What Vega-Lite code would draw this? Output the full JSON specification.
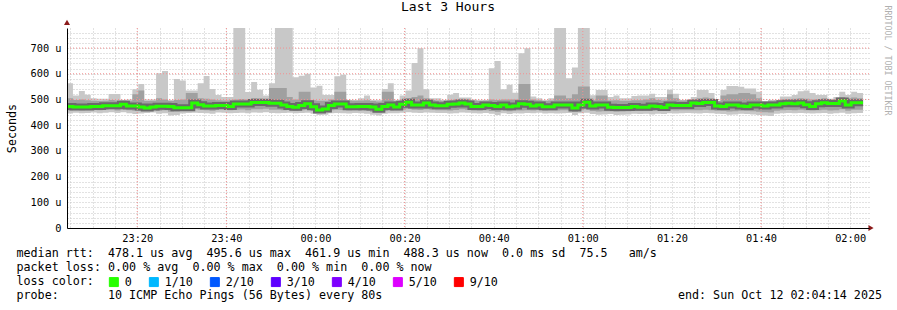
{
  "$schema": "https://vega.github.io/schema/vega-lite/v6.json",
  "width": 802,
  "height": 200,
  "autosize": "none",
  "padding": {"left": 67, "top": 28, "right": 28, "bottom": 82},
  "background": "#ffffff",
  "config": {"view": {"stroke": null}, "font": "DejaVu Sans Mono"},
  "title": {"text": "Last 3 Hours", "font": "DejaVu Sans Mono", "fontSize": 13, "fontWeight": "normal", "color": "#000", "anchor": "middle", "frame": "group", "dx": -20, "baseline": "alphabetic", "offset": -19},
  "data": {"values": [
    {"t":"2025-10-11T23:04:14","lo":445,"q1":458,"q3":505,"hi":563,"m":473,"l":"0"},
    {"t":"2025-10-11T23:05:34","lo":448,"q1":460,"q3":498,"hi":515,"m":471,"l":"0"},
    {"t":"2025-10-11T23:06:54","lo":446,"q1":458,"q3":500,"hi":533,"m":471,"l":"0"},
    {"t":"2025-10-11T23:08:14","lo":447,"q1":459,"q3":497,"hi":518,"m":471,"l":"0"},
    {"t":"2025-10-11T23:09:34","lo":449,"q1":461,"q3":495,"hi":505,"m":473,"l":"0"},
    {"t":"2025-10-11T23:10:54","lo":446,"q1":458,"q3":494,"hi":503,"m":473,"l":"0"},
    {"t":"2025-10-11T23:12:14","lo":448,"q1":460,"q3":495,"hi":503,"m":476,"l":"0"},
    {"t":"2025-10-11T23:13:34","lo":450,"q1":462,"q3":498,"hi":521,"m":476,"l":"0"},
    {"t":"2025-10-11T23:14:54","lo":447,"q1":457,"q3":496,"hi":521,"m":476,"l":"0"},
    {"t":"2025-10-11T23:16:14","lo":450,"q1":462,"q3":497,"hi":498,"m":481,"l":"0"},
    {"t":"2025-10-11T23:17:34","lo":446,"q1":458,"q3":495,"hi":500,"m":475,"l":"0"},
    {"t":"2025-10-11T23:18:54","lo":443,"q1":456,"q3":520,"hi":540,"m":475,"l":"0"},
    {"t":"2025-10-11T23:20:14","lo":445,"q1":455,"q3":535,"hi":560,"m":471,"l":"0"},
    {"t":"2025-10-11T23:21:34","lo":447,"q1":457,"q3":494,"hi":500,"m":467,"l":"0"},
    {"t":"2025-10-11T23:22:54","lo":449,"q1":459,"q3":495,"hi":500,"m":471,"l":"0"},
    {"t":"2025-10-11T23:24:14","lo":444,"q1":456,"q3":505,"hi":602,"m":474,"l":"0"},
    {"t":"2025-10-11T23:25:34","lo":446,"q1":458,"q3":500,"hi":611,"m":474,"l":"0"},
    {"t":"2025-10-11T23:26:54","lo":438,"q1":452,"q3":494,"hi":498,"m":473,"l":"0"},
    {"t":"2025-10-11T23:28:14","lo":440,"q1":453,"q3":498,"hi":580,"m":468,"l":"0"},
    {"t":"2025-10-11T23:29:34","lo":445,"q1":456,"q3":500,"hi":574,"m":468,"l":"0"},
    {"t":"2025-10-11T23:30:54","lo":447,"q1":458,"q3":525,"hi":535,"m":468,"l":"0"},
    {"t":"2025-10-11T23:32:14","lo":448,"q1":462,"q3":525,"hi":535,"m":486,"l":"0"},
    {"t":"2025-10-11T23:33:34","lo":447,"q1":460,"q3":505,"hi":563,"m":479,"l":"0"},
    {"t":"2025-10-11T23:34:54","lo":446,"q1":458,"q3":503,"hi":591,"m":475,"l":"0"},
    {"t":"2025-10-11T23:36:14","lo":444,"q1":456,"q3":500,"hi":541,"m":475,"l":"0"},
    {"t":"2025-10-11T23:37:34","lo":449,"q1":460,"q3":497,"hi":517,"m":477,"l":"0"},
    {"t":"2025-10-11T23:38:54","lo":448,"q1":460,"q3":496,"hi":510,"m":477,"l":"0"},
    {"t":"2025-10-11T23:40:14","lo":446,"q1":458,"q3":496,"hi":510,"m":473,"l":"0"},
    {"t":"2025-10-11T23:41:34","lo":447,"q1":460,"q3":500,"hi":780,"m":482,"l":"0"},
    {"t":"2025-10-11T23:42:54","lo":448,"q1":461,"q3":502,"hi":780,"m":482,"l":"0"},
    {"t":"2025-10-11T23:44:14","lo":446,"q1":458,"q3":500,"hi":529,"m":482,"l":"0"},
    {"t":"2025-10-11T23:45:34","lo":449,"q1":462,"q3":506,"hi":568,"m":488,"l":"0"},
    {"t":"2025-10-11T23:46:54","lo":448,"q1":462,"q3":505,"hi":538,"m":488,"l":"0"},
    {"t":"2025-10-11T23:48:14","lo":450,"q1":464,"q3":504,"hi":515,"m":488,"l":"0"},
    {"t":"2025-10-11T23:49:34","lo":447,"q1":460,"q3":545,"hi":563,"m":485,"l":"0"},
    {"t":"2025-10-11T23:50:54","lo":446,"q1":460,"q3":545,"hi":780,"m":485,"l":"0"},
    {"t":"2025-10-11T23:52:14","lo":447,"q1":458,"q3":545,"hi":780,"m":478,"l":"0"},
    {"t":"2025-10-11T23:53:34","lo":448,"q1":459,"q3":510,"hi":780,"m":473,"l":"0"},
    {"t":"2025-10-11T23:54:54","lo":446,"q1":456,"q3":500,"hi":586,"m":470,"l":"0"},
    {"t":"2025-10-11T23:56:14","lo":447,"q1":458,"q3":530,"hi":592,"m":477,"l":"0"},
    {"t":"2025-10-11T23:57:34","lo":448,"q1":460,"q3":530,"hi":600,"m":483,"l":"0"},
    {"t":"2025-10-11T23:58:54","lo":444,"q1":455,"q3":497,"hi":547,"m":472,"l":"0"},
    {"t":"2025-10-12T00:00:14","lo":440,"q1":450,"q3":495,"hi":553,"m":459,"l":"0"},
    {"t":"2025-10-12T00:01:34","lo":441,"q1":452,"q3":495,"hi":517,"m":463,"l":"0"},
    {"t":"2025-10-12T00:02:54","lo":446,"q1":458,"q3":500,"hi":517,"m":477,"l":"0"},
    {"t":"2025-10-12T00:04:14","lo":447,"q1":460,"q3":530,"hi":590,"m":482,"l":"0"},
    {"t":"2025-10-12T00:05:34","lo":446,"q1":459,"q3":530,"hi":596,"m":482,"l":"0"},
    {"t":"2025-10-12T00:06:54","lo":445,"q1":457,"q3":496,"hi":498,"m":472,"l":"0"},
    {"t":"2025-10-12T00:08:14","lo":447,"q1":458,"q3":495,"hi":498,"m":472,"l":"0"},
    {"t":"2025-10-12T00:09:34","lo":446,"q1":456,"q3":496,"hi":505,"m":473,"l":"0"},
    {"t":"2025-10-12T00:10:54","lo":444,"q1":455,"q3":497,"hi":515,"m":473,"l":"0"},
    {"t":"2025-10-12T00:12:14","lo":441,"q1":452,"q3":494,"hi":498,"m":471,"l":"0"},
    {"t":"2025-10-12T00:13:34","lo":438,"q1":450,"q3":492,"hi":498,"m":462,"l":"0"},
    {"t":"2025-10-12T00:14:54","lo":444,"q1":455,"q3":530,"hi":541,"m":473,"l":"0"},
    {"t":"2025-10-12T00:16:14","lo":446,"q1":457,"q3":530,"hi":563,"m":478,"l":"0"},
    {"t":"2025-10-12T00:17:34","lo":446,"q1":458,"q3":494,"hi":498,"m":471,"l":"0"},
    {"t":"2025-10-12T00:18:54","lo":448,"q1":460,"q3":500,"hi":515,"m":481,"l":"0"},
    {"t":"2025-10-12T00:20:14","lo":450,"q1":464,"q3":505,"hi":535,"m":489,"l":"0"},
    {"t":"2025-10-12T00:21:34","lo":448,"q1":460,"q3":510,"hi":642,"m":478,"l":"0"},
    {"t":"2025-10-12T00:22:54","lo":447,"q1":459,"q3":515,"hi":699,"m":478,"l":"0"},
    {"t":"2025-10-12T00:24:14","lo":449,"q1":462,"q3":505,"hi":540,"m":486,"l":"0"},
    {"t":"2025-10-12T00:25:34","lo":448,"q1":460,"q3":498,"hi":505,"m":478,"l":"0"},
    {"t":"2025-10-12T00:26:54","lo":447,"q1":458,"q3":496,"hi":505,"m":476,"l":"0"},
    {"t":"2025-10-12T00:28:14","lo":447,"q1":458,"q3":495,"hi":497,"m":476,"l":"0"},
    {"t":"2025-10-12T00:29:34","lo":445,"q1":457,"q3":497,"hi":518,"m":481,"l":"0"},
    {"t":"2025-10-12T00:30:54","lo":446,"q1":459,"q3":500,"hi":525,"m":482,"l":"0"},
    {"t":"2025-10-12T00:32:14","lo":449,"q1":462,"q3":503,"hi":508,"m":486,"l":"0"},
    {"t":"2025-10-12T00:33:34","lo":448,"q1":460,"q3":500,"hi":508,"m":482,"l":"0"},
    {"t":"2025-10-12T00:34:54","lo":446,"q1":457,"q3":496,"hi":500,"m":473,"l":"0"},
    {"t":"2025-10-12T00:36:14","lo":445,"q1":456,"q3":495,"hi":497,"m":473,"l":"0"},
    {"t":"2025-10-12T00:37:34","lo":447,"q1":458,"q3":496,"hi":497,"m":478,"l":"0"},
    {"t":"2025-10-12T00:38:54","lo":444,"q1":455,"q3":500,"hi":621,"m":477,"l":"0"},
    {"t":"2025-10-12T00:40:14","lo":440,"q1":452,"q3":498,"hi":650,"m":473,"l":"0"},
    {"t":"2025-10-12T00:41:34","lo":446,"q1":457,"q3":500,"hi":540,"m":478,"l":"0"},
    {"t":"2025-10-12T00:42:54","lo":443,"q1":454,"q3":500,"hi":557,"m":472,"l":"0"},
    {"t":"2025-10-12T00:44:14","lo":446,"q1":457,"q3":500,"hi":526,"m":475,"l":"0"},
    {"t":"2025-10-12T00:45:34","lo":445,"q1":457,"q3":560,"hi":680,"m":483,"l":"0"},
    {"t":"2025-10-12T00:46:54","lo":447,"q1":458,"q3":560,"hi":699,"m":481,"l":"0"},
    {"t":"2025-10-12T00:48:14","lo":446,"q1":457,"q3":500,"hi":512,"m":475,"l":"0"},
    {"t":"2025-10-12T00:49:34","lo":448,"q1":459,"q3":497,"hi":505,"m":478,"l":"0"},
    {"t":"2025-10-12T00:50:54","lo":445,"q1":456,"q3":495,"hi":497,"m":472,"l":"0"},
    {"t":"2025-10-12T00:52:14","lo":446,"q1":457,"q3":496,"hi":505,"m":472,"l":"0"},
    {"t":"2025-10-12T00:53:34","lo":445,"q1":457,"q3":515,"hi":780,"m":478,"l":"0"},
    {"t":"2025-10-12T00:54:54","lo":446,"q1":458,"q3":515,"hi":780,"m":478,"l":"0"},
    {"t":"2025-10-12T00:56:14","lo":447,"q1":458,"q3":505,"hi":583,"m":478,"l":"0"},
    {"t":"2025-10-12T00:57:34","lo":440,"q1":452,"q3":520,"hi":624,"m":467,"l":"0"},
    {"t":"2025-10-12T00:58:54","lo":446,"q1":458,"q3":550,"hi":780,"m":478,"l":"0"},
    {"t":"2025-10-12T01:00:14","lo":448,"q1":462,"q3":550,"hi":780,"m":489,"l":"0"},
    {"t":"2025-10-12T01:01:34","lo":443,"q1":455,"q3":497,"hi":516,"m":475,"l":"0"},
    {"t":"2025-10-12T01:02:54","lo":441,"q1":453,"q3":515,"hi":537,"m":478,"l":"0"},
    {"t":"2025-10-12T01:04:14","lo":442,"q1":454,"q3":515,"hi":537,"m":478,"l":"0"},
    {"t":"2025-10-12T01:05:34","lo":443,"q1":454,"q3":496,"hi":510,"m":470,"l":"0"},
    {"t":"2025-10-12T01:06:54","lo":440,"q1":452,"q3":497,"hi":515,"m":469,"l":"0"},
    {"t":"2025-10-12T01:08:14","lo":441,"q1":453,"q3":495,"hi":505,"m":469,"l":"0"},
    {"t":"2025-10-12T01:09:34","lo":442,"q1":454,"q3":495,"hi":505,"m":469,"l":"0"},
    {"t":"2025-10-12T01:10:54","lo":444,"q1":456,"q3":497,"hi":513,"m":473,"l":"0"},
    {"t":"2025-10-12T01:12:14","lo":443,"q1":455,"q3":497,"hi":515,"m":470,"l":"0"},
    {"t":"2025-10-12T01:13:34","lo":444,"q1":456,"q3":500,"hi":515,"m":470,"l":"0"},
    {"t":"2025-10-12T01:14:54","lo":442,"q1":455,"q3":505,"hi":522,"m":475,"l":"0"},
    {"t":"2025-10-12T01:16:14","lo":444,"q1":456,"q3":498,"hi":510,"m":473,"l":"0"},
    {"t":"2025-10-12T01:17:34","lo":443,"q1":455,"q3":496,"hi":510,"m":469,"l":"0"},
    {"t":"2025-10-12T01:18:54","lo":446,"q1":458,"q3":520,"hi":538,"m":478,"l":"0"},
    {"t":"2025-10-12T01:20:14","lo":445,"q1":457,"q3":505,"hi":522,"m":477,"l":"0"},
    {"t":"2025-10-12T01:21:34","lo":446,"q1":458,"q3":496,"hi":498,"m":477,"l":"0"},
    {"t":"2025-10-12T01:22:54","lo":447,"q1":458,"q3":497,"hi":498,"m":477,"l":"0"},
    {"t":"2025-10-12T01:24:14","lo":446,"q1":458,"q3":500,"hi":510,"m":486,"l":"0"},
    {"t":"2025-10-12T01:25:34","lo":445,"q1":458,"q3":505,"hi":537,"m":484,"l":"0"},
    {"t":"2025-10-12T01:26:54","lo":447,"q1":460,"q3":508,"hi":537,"m":488,"l":"0"},
    {"t":"2025-10-12T01:28:14","lo":446,"q1":458,"q3":505,"hi":525,"m":488,"l":"0"},
    {"t":"2025-10-12T01:29:34","lo":444,"q1":456,"q3":494,"hi":495,"m":475,"l":"0"},
    {"t":"2025-10-12T01:30:54","lo":443,"q1":455,"q3":515,"hi":537,"m":473,"l":"0"},
    {"t":"2025-10-12T01:32:14","lo":441,"q1":453,"q3":520,"hi":552,"m":478,"l":"0"},
    {"t":"2025-10-12T01:33:34","lo":442,"q1":454,"q3":520,"hi":552,"m":478,"l":"0"},
    {"t":"2025-10-12T01:34:54","lo":444,"q1":456,"q3":525,"hi":549,"m":475,"l":"0"},
    {"t":"2025-10-12T01:36:14","lo":443,"q1":455,"q3":525,"hi":543,"m":473,"l":"0"},
    {"t":"2025-10-12T01:37:34","lo":442,"q1":454,"q3":520,"hi":543,"m":478,"l":"0"},
    {"t":"2025-10-12T01:38:54","lo":440,"q1":452,"q3":505,"hi":530,"m":478,"l":"0"},
    {"t":"2025-10-12T01:40:14","lo":438,"q1":450,"q3":492,"hi":492,"m":475,"l":"0"},
    {"t":"2025-10-12T01:41:34","lo":436,"q1":449,"q3":495,"hi":498,"m":478,"l":"0"},
    {"t":"2025-10-12T01:42:54","lo":444,"q1":456,"q3":496,"hi":498,"m":478,"l":"0"},
    {"t":"2025-10-12T01:44:14","lo":446,"q1":458,"q3":500,"hi":512,"m":483,"l":"0"},
    {"t":"2025-10-12T01:45:34","lo":447,"q1":459,"q3":502,"hi":512,"m":485,"l":"0"},
    {"t":"2025-10-12T01:46:54","lo":446,"q1":458,"q3":503,"hi":517,"m":483,"l":"0"},
    {"t":"2025-10-12T01:48:14","lo":447,"q1":460,"q3":505,"hi":532,"m":486,"l":"0"},
    {"t":"2025-10-12T01:49:34","lo":446,"q1":458,"q3":503,"hi":535,"m":479,"l":"0"},
    {"t":"2025-10-12T01:50:54","lo":445,"q1":457,"q3":500,"hi":525,"m":473,"l":"0"},
    {"t":"2025-10-12T01:52:14","lo":446,"q1":458,"q3":502,"hi":517,"m":483,"l":"0"},
    {"t":"2025-10-12T01:53:34","lo":447,"q1":460,"q3":505,"hi":517,"m":487,"l":"0"},
    {"t":"2025-10-12T01:54:54","lo":444,"q1":457,"q3":500,"hi":503,"m":484,"l":"0"},
    {"t":"2025-10-12T01:56:14","lo":446,"q1":458,"q3":502,"hi":510,"m":484,"l":"0"},
    {"t":"2025-10-12T01:57:34","lo":448,"q1":462,"q3":510,"hi":530,"m":494,"l":"0"},
    {"t":"2025-10-12T01:58:54","lo":444,"q1":456,"q3":505,"hi":517,"m":478,"l":"0"},
    {"t":"2025-10-12T02:00:14","lo":446,"q1":460,"q3":508,"hi":530,"m":487,"l":"0"},
    {"t":"2025-10-12T02:01:34","lo":447,"q1":460,"q3":505,"hi":525,"m":487,"l":"0"},
    {"t":"2025-10-12T02:02:54","lo":447,"q1":460,"q3":505,"hi":525,"m":487,"l":"0"}
  ]},
  "resolve": {"axis": {"y": "independent", "x": "independent"}},
  "layer": [
    {
      "mark": {"type": "area", "interpolate": "step-after", "color": "#c8c8c8", "clip": true},
      "encoding": {
        "x": {"field": "t", "type": "temporal",
          "scale": {"domain": [{"year": 2025, "month": 10, "date": 11, "hours": 23, "minutes": 4, "seconds": 14}, {"year": 2025, "month": 10, "date": 12, "hours": 2, "minutes": 4, "seconds": 14}]},
          "axis": {"orient": "bottom", "labels": false, "ticks": false, "domain": false, "grid": false,
            "title": "packet loss: 0.00 % avg\u00a0\u00a00.00 % max\u00a0\u00a00.00 % min\u00a0\u00a00.00 % now",
            "titleFont": "DejaVu Sans Mono", "titleFontSize": 11.7, "titleFontWeight": "normal", "titleColor": "#000",
            "titleX": -51, "titleY": 33, "titleAlign": "left", "titleBaseline": "top"}},
        "y": {"field": "lo", "type": "quantitative",
          "scale": {"domain": [0, 778], "nice": false, "zero": true},
          "axis": {
            "orient": "left",
            "values": [0,100,200,300,400,500,600,700],
            "labelExpr": "datum.value == 0 ? '0\u00a0\u00a0' : datum.value + ' u'",
            "labelOverlap": false, "labelBound": false, "labelFlush": false,
            "ticks": false, "domainColor": "#000", "labelPadding": 6,
            "labelFont": "DejaVu Sans Mono", "labelFontSize": 10.3, "labelColor": "#000",
            "grid": false, "zindex": 1,
            "title": "Seconds", "titleFont": "DejaVu Sans Mono", "titleFontSize": 11.7, "titleFontWeight": "normal", "titleColor": "#000",
            "titleX": -56, "titleY": 100, "titleAngle": -90, "titleAlign": "center", "titleBaseline": "middle"
          }
        },
        "y2": {"field": "hi"}
      }
    },
    {
      "mark": {"type": "area", "interpolate": "step-after", "color": "#a0a0a0", "clip": true},
      "encoding": {
        "x": {"field": "t", "type": "temporal",
          "axis": {"orient": "bottom", "labels": false, "ticks": false, "domain": false, "grid": false,
            "title": "loss color:",
            "titleFont": "DejaVu Sans Mono", "titleFontSize": 11.7, "titleFontWeight": "normal", "titleColor": "#000",
            "titleX": -51, "titleY": 47, "titleAlign": "left", "titleBaseline": "top"}},
        "y": {"field": "q1", "type": "quantitative",
          "axis": {"orient": "left", "title": null, "labels": false, "ticks": false, "domain": false,
            "values": [0,20,40,60,80,100,120,140,160,180,200,220,240,260,280,300,320,340,360,380,400,420,440,460,480,500,520,540,560,580,600,620,640,660,680,700,720,740,760],
            "grid": true, "gridColor": "#c4c4c4", "gridDash": [1, 2], "gridWidth": 1, "zindex": 0}},
        "y2": {"field": "q3"}
      }
    },
    {
      "mark": {"type": "line", "interpolate": "step-after", "color": "#6a6a6a", "strokeWidth": 7, "clip": true},
      "encoding": {
        "x": {"field": "t", "type": "temporal",
          "axis": {"orient": "bottom", "labels": false, "ticks": false, "domain": false, "grid": false,
            "title": "probe:\u00a0\u00a0\u00a0\u00a0\u00a0\u00a0\u00a010 ICMP Echo Pings (56 Bytes) every 80s\u00a0\u00a0\u00a0\u00a0\u00a0\u00a0\u00a0\u00a0\u00a0\u00a0\u00a0\u00a0\u00a0\u00a0\u00a0\u00a0\u00a0\u00a0\u00a0\u00a0\u00a0\u00a0\u00a0\u00a0\u00a0\u00a0\u00a0\u00a0\u00a0\u00a0\u00a0\u00a0\u00a0\u00a0\u00a0\u00a0\u00a0\u00a0\u00a0\u00a0\u00a0\u00a0end: Sun Oct 12 02:04:14 2025",
            "titleFont": "DejaVu Sans Mono", "titleFontSize": 11.7, "titleFontWeight": "normal", "titleColor": "#000",
            "titleX": -51, "titleY": 61, "titleAlign": "left", "titleBaseline": "top"}},
        "y": {"field": "m", "type": "quantitative", "axis": null}
      }
    },
    {
      "mark": {"type": "line", "interpolate": "step-after", "strokeWidth": 3, "clip": true},
      "encoding": {
        "x": {"field": "t", "type": "temporal",
          "axis": {"orient": "bottom", "title": null, "labels": false, "ticks": false, "domain": false,
            "values": [
              {"year":2025,"month":10,"date":11,"hours":23,"minutes":5},{"year":2025,"month":10,"date":11,"hours":23,"minutes":10},{"year":2025,"month":10,"date":11,"hours":23,"minutes":15},{"year":2025,"month":10,"date":11,"hours":23,"minutes":20},
              {"year":2025,"month":10,"date":11,"hours":23,"minutes":25},{"year":2025,"month":10,"date":11,"hours":23,"minutes":30},{"year":2025,"month":10,"date":11,"hours":23,"minutes":35},{"year":2025,"month":10,"date":11,"hours":23,"minutes":40},
              {"year":2025,"month":10,"date":11,"hours":23,"minutes":45},{"year":2025,"month":10,"date":11,"hours":23,"minutes":50},{"year":2025,"month":10,"date":11,"hours":23,"minutes":55},
              {"year":2025,"month":10,"date":12,"hours":0,"minutes":0},{"year":2025,"month":10,"date":12,"hours":0,"minutes":5},{"year":2025,"month":10,"date":12,"hours":0,"minutes":10},{"year":2025,"month":10,"date":12,"hours":0,"minutes":15},
              {"year":2025,"month":10,"date":12,"hours":0,"minutes":20},{"year":2025,"month":10,"date":12,"hours":0,"minutes":25},{"year":2025,"month":10,"date":12,"hours":0,"minutes":30},{"year":2025,"month":10,"date":12,"hours":0,"minutes":35},
              {"year":2025,"month":10,"date":12,"hours":0,"minutes":40},{"year":2025,"month":10,"date":12,"hours":0,"minutes":45},{"year":2025,"month":10,"date":12,"hours":0,"minutes":50},{"year":2025,"month":10,"date":12,"hours":0,"minutes":55},
              {"year":2025,"month":10,"date":12,"hours":1,"minutes":0},{"year":2025,"month":10,"date":12,"hours":1,"minutes":5},{"year":2025,"month":10,"date":12,"hours":1,"minutes":10},{"year":2025,"month":10,"date":12,"hours":1,"minutes":15},
              {"year":2025,"month":10,"date":12,"hours":1,"minutes":20},{"year":2025,"month":10,"date":12,"hours":1,"minutes":25},{"year":2025,"month":10,"date":12,"hours":1,"minutes":30},{"year":2025,"month":10,"date":12,"hours":1,"minutes":35},
              {"year":2025,"month":10,"date":12,"hours":1,"minutes":40},{"year":2025,"month":10,"date":12,"hours":1,"minutes":45},{"year":2025,"month":10,"date":12,"hours":1,"minutes":50},{"year":2025,"month":10,"date":12,"hours":1,"minutes":55},
              {"year":2025,"month":10,"date":12,"hours":2,"minutes":0}
            ],
            "grid": true, "gridColor": "#c4c4c4", "gridDash": [1, 2], "gridWidth": 1, "zindex": 0}},
        "y": {"field": "m", "type": "quantitative", "axis": null},
        "color": {"field": "l", "type": "nominal",
          "scale": {"domain": ["0", "1/10", "2/10", "3/10", "4/10", "5/10", "9/10"], "range": ["#26ff00", "#00b8ff", "#0059ff", "#5e00ff", "#7e00ff", "#dd00ff", "#ff0000"]},
          "legend": {
            "orient": "none", "legendX": 41, "legendY": 248, "direction": "horizontal", "title": null,
            "symbolType": "square", "symbolSize": 81, "symbolStrokeWidth": 1, "symbolStrokeColor": "#000",
            "labelFont": "DejaVu Sans Mono", "labelFontSize": 11.7, "labelColor": "#000", "labelOffset": 5,
            "columnPadding": 15, "padding": 0,
            "encode": {"symbols": {"update": {"fill": {"scale": "color", "field": "value"}, "stroke": {"value": "#000"}, "strokeWidth": {"value": 1}, "opacity": {"value": 1}, "fillOpacity": {"value": 1}}}}
          }
        }
      }
    },
    {
      "data": {"values": [
        {"t": "2025-10-11T23:20:00"}, {"t": "2025-10-11T23:40:00"}, {"t": "2025-10-12T00:20:00"}, {"t": "2025-10-12T01:00:00"}, {"t": "2025-10-12T01:40:00"}
      ]},
      "mark": {"type": "rule", "color": "#f49090", "strokeDash": [1, 2], "strokeWidth": 1},
      "encoding": {
        "x": {"field": "t", "type": "temporal",
          "scale": {"domain": [{"year": 2025, "month": 10, "date": 11, "hours": 23, "minutes": 4, "seconds": 14}, {"year": 2025, "month": 10, "date": 12, "hours": 2, "minutes": 4, "seconds": 14}]},
          "axis": {
            "orient": "bottom",
            "values": [
              {"year":2025,"month":10,"date":11,"hours":23,"minutes":20},{"year":2025,"month":10,"date":11,"hours":23,"minutes":40},
              {"year":2025,"month":10,"date":12,"hours":0,"minutes":0},{"year":2025,"month":10,"date":12,"hours":0,"minutes":20},{"year":2025,"month":10,"date":12,"hours":0,"minutes":40},
              {"year":2025,"month":10,"date":12,"hours":1,"minutes":0},{"year":2025,"month":10,"date":12,"hours":1,"minutes":20},{"year":2025,"month":10,"date":12,"hours":1,"minutes":40},
              {"year":2025,"month":10,"date":12,"hours":2,"minutes":0}
            ],
            "format": "%H:%M",
            "labelOverlap": false, "labelFlush": false, "labelBound": false,
            "ticks": false, "domainColor": "#000", "domainWidth": 1,
            "labelFont": "DejaVu Sans Mono", "labelFontSize": 10.3, "labelColor": "#000", "labelPadding": 5,
            "grid": false, "zindex": 1,
            "title": "median rtt:\u00a0\u00a0478.1 us avg\u00a0\u00a0495.6 us max\u00a0\u00a0461.9 us min\u00a0\u00a0488.3 us now\u00a0\u00a00.0 ms sd\u00a0\u00a075.5\u00a0\u00a0\u00a0am/s",
            "titleFont": "DejaVu Sans Mono", "titleFontSize": 11.7, "titleFontWeight": "normal", "titleColor": "#000",
            "titleX": -51, "titleY": 19, "titleAlign": "left", "titleBaseline": "top"
          }
        }
      }
    },
    {
      "data": {"values": [{"v": 500}, {"v": 600}, {"v": 700}]},
      "mark": {"type": "rule", "color": "#f49090", "strokeDash": [1, 2], "strokeWidth": 1},
      "encoding": {
        "y": {"field": "v", "type": "quantitative", "axis": null}
      }
    },
    {
      "data": {"values": [
        {"t": "2025-10-11T23:04:14", "v": 800, "s": "triangle-up"},
        {"t": "2025-10-12T02:04:41", "v": 0, "s": "triangle-right"}
      ]},
      "mark": {"type": "point", "filled": true, "color": "#8b1a1a", "size": 36, "opacity": 1},
      "encoding": {
        "x": {"field": "t", "type": "temporal", "axis": null},
        "y": {"field": "v", "type": "quantitative",
          "axis": {"orient": "right", "title": "RRDTOOL / TOBI OETIKER", "labels": false, "ticks": false, "domain": false, "grid": false,
            "titleAngle": 90, "titleX": 17, "titleY": 32, "titleAlign": "center", "titleBaseline": "middle",
            "titleFont": "DejaVu Sans Mono", "titleFontSize": 8.3, "titleFontWeight": "normal", "titleColor": "#b0b0b0"}},
        "shape": {"field": "s", "type": "nominal", "scale": null}
      }
    }
  ]
}
